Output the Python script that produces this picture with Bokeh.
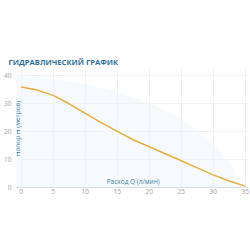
from bokeh.plotting import figure
from bokeh.models import Range1d, Label, FixedTicker, Title
from bokeh.embed import file_html
from bokeh.resources import INLINE

title_text = "ГИДРАВЛИЧЕСКИЙ ГРАФИК"
x_label = "Расход Q (л/мин)"
y_label = "Напор H (метров)"

flow_q = [0, 2.5, 5, 7.5, 10, 12.5, 15, 17.5, 20, 22.5, 25, 27.5, 30, 32.5, 35]
head_h = [35.8, 34.7, 32.8, 29.8, 26.4, 23.1, 20.0, 17.0, 14.5, 12.0, 9.5, 7.0, 4.5, 2.3, 0.5]

x_ticks = [0, 5, 10, 15, 20, 25, 30, 35]
y_ticks = [0, 10, 20, 30, 40]

p = figure(width=250, height=250, output_backend="svg", toolbar_location=None,
           x_range=Range1d(-0.73, 35.5), y_range=Range1d(0, 42),
           min_border_left=16, min_border_right=2, min_border_top=69, min_border_bottom=63)
p.outline_line_color = None
p.background_fill_color = "white"
p.border_fill_color = "white"

# faint decorative swoosh
p.ellipse(x=-4, y=-8, width=78, height=96, fill_color="#f0f5f9", fill_alpha=0.5, line_color=None)

p.xgrid.ticker = FixedTicker(ticks=x_ticks)
p.ygrid.ticker = FixedTicker(ticks=y_ticks)
p.xgrid.grid_line_color = "#eef0f2"
p.ygrid.grid_line_color = "#eef0f2"

p.xaxis.ticker = FixedTicker(ticks=x_ticks)
p.yaxis.ticker = FixedTicker(ticks=y_ticks)
for ax in (p.xaxis, p.yaxis):
    ax.major_tick_line_color = None
    ax.minor_tick_line_color = None
    ax.major_tick_out = 0
    ax.major_tick_in = 0
    ax.major_label_text_color = "#a0a0a0"
    ax.major_label_text_font = "Open Sans"
    ax.major_label_text_font_size = "6.5px"
p.yaxis.axis_line_color = None
p.xaxis.axis_line_color = "#d8dde2"
p.yaxis.major_label_standoff = 5
p.xaxis.major_label_standoff = 1

p.line(flow_q, head_h, line_color="#e8ae3c", line_width=1.5)

p.add_layout(Label(x=17.5, y=2.1, text=x_label, text_align="center", text_baseline="middle",
                   text_color="#3d7fa6", text_font="Open Sans", text_font_size="6.5px"))
p.add_layout(Label(x=0, y=21, x_offset=-3.5, text=y_label, angle=90, angle_units="deg",
                   text_align="center", text_baseline="middle",
                   text_color="#3d7fa6", text_font="Open Sans", text_font_size="6.5px"))

p.add_layout(Title(text=title_text, align="left", offset=-8, text_font="Open Sans",
                   text_font_style="bold", text_font_size="7.6px", text_color="#2c6f97",
                   standoff=5), "above")

open("out.html", "w").write(file_html(p, INLINE))
